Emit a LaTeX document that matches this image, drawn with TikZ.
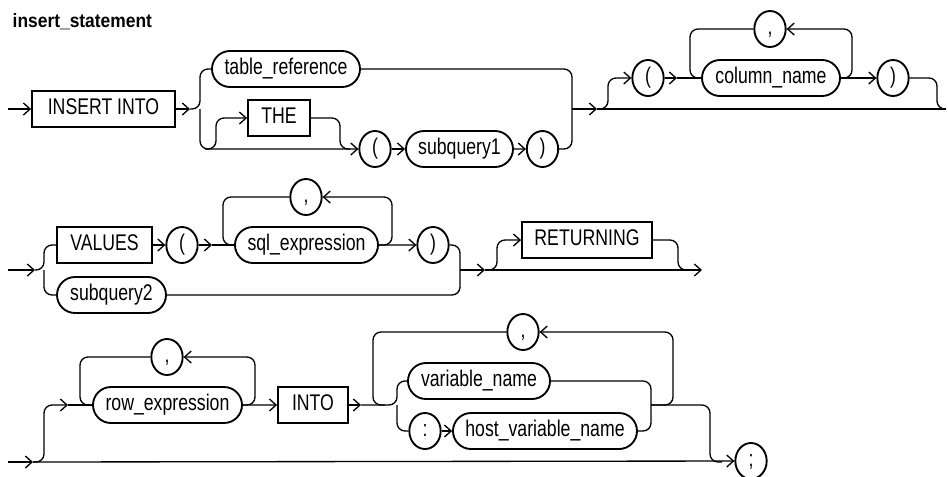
\documentclass[tikz,border=0pt]{standalone}
\usepackage{fontspec}
\setmainfont{Liberation Sans}[FakeStretch=0.78]
\newfontfamily\titlefont{Liberation Sans}[FakeStretch=0.9]
\usepackage{tikz}
\usetikzlibrary{arrows.meta,shapes.geometric,shapes.misc}
\tikzset{
  kw/.style={draw,line width=1.4pt,minimum width=#1*0.75pt,minimum height=27pt,inner sep=0pt},
  nt/.style={draw,rounded rectangle,line width=1.4pt,minimum width=#1*0.75pt,minimum height=27pt,inner sep=0pt},
  sym/.style={draw,ellipse,line width=1.4pt,minimum width=23.5pt,minimum height=27pt,inner sep=0pt},
  conn/.style={line width=1pt,rounded corners=6pt},
  arr/.style={-{Straight Barb[length=5pt,width=9pt]}}
}

\begin{document}
\begin{tikzpicture}[x=0.75pt,y=-0.75pt,every node/.append style={font=\fontsize{17}{20}\selectfont,text height=12pt,text depth=3.5pt}]
\useasboundingbox (0,0) rectangle (948,476);
\node[anchor=base west,font=\titlefont\fontsize{14.5}{17}\selectfont\bfseries] (title) at (8,27) {insert\_statement};
% row 1
\node[kw=143] (ins) at (103.5,109) {INSERT INTO};
\node[nt=148] (tref) at (286,69) {table\_reference};
\node[kw=62] (the) at (279,118) {THE};
\node[sym] (lp1) at (375,149) {(};\node[nt=107] (sq1) at (459.5,149) {subquery1};\node[sym] (rp1) at (542.5,149) {)};
\node[sym] (lp2) at (648,78) {(};\node[nt=138] (col) at (771,78) {column\_name};\node[sym] (rp2) at (893,78) {)};
\node[sym] (cm1) at (770,29) {,};
\coordinate (s1) at (8,109);\coordinate (a1) at (190,109);\coordinate (j1) at (200,109);
\coordinate (j2) at (572,109);\coordinate (a2) at (597,109);\coordinate (a3) at (677,78);\coordinate (e1) at (946,109);
\draw[conn,arr] (s1) -- (ins.west);
\draw[conn,arr] (ins.east) -- (a1);
\draw[conn] (a1) -- (j1) |- (tref.west);
\draw[conn,arr] (j1) |- (lp1.west);
\draw[conn,arr] (205,149) -| (216,118) -- (the.west);
\draw[conn] (the.east) -| (340,149) -- (350,149);
\draw[conn,arr] (lp1) -- (sq1);\draw[conn,arr] (sq1) -- (rp1);
\draw[conn] (rp1.east) -| (j2);\draw[conn] (tref.east) -| (j2);
\draw[conn,arr] (j2) -- (a2);
\draw[conn] (a2) -- (e1);
\draw[conn,arr] (a2) -| (608,78) -- (lp2.west);
\draw[conn,arr] (lp2.east) -- (a3);
\draw[conn] (a3) -- (col.west);
\draw[conn,arr] (col.east) -| (852,29) -- (cm1.east);
\draw[conn] (cm1.west) -| (690,78) -- (col.west);
\draw[conn,arr] (col.east) -- (rp2.west);
\draw[conn] (rp2.east) -| (937,109) -- (e1);
% row 2
\node[kw=95] (vals) at (104.5,245) {VALUES};
\node[nt=109] (sq2) at (111.5,295) {subquery2};
\node[sym] (lp3) at (182,245) {(};\node[nt=143] (sqe) at (306.5,245) {sql\_expression};\node[sym] (rp3) at (433,245) {)};
\node[sym] (cm2) at (306,197) {,};
\node[kw=130] (ret) at (587,240) {RETURNING};
\coordinate (s2) at (8,270);\coordinate (a4) at (35,270);\coordinate (j3) at (44,270);
\coordinate (a5) at (212,245);\coordinate (j4) at (460,270);\coordinate (a6) at (485,270);\coordinate (e2) at (702,270);
\draw[conn,arr] (s2) -- (a4);
\draw[conn] (a4) -- (j3) |- (vals.west);
\draw[conn] (j3) |- (sq2.west);
\draw[conn,arr] (vals) -- (lp3);
\draw[conn,arr] (lp3.east) -- (a5);
\draw[conn] (a5) -- (sqe.west);
\draw[conn,arr] (sqe.east) -| (392,197) -- (cm2.east);
\draw[conn] (cm2.west) -| (223,245) -- (sqe.west);
\draw[conn,arr] (sqe) -- (rp3);
\draw[conn] (rp3.east) -| (j4);\draw[conn] (sq2.east) -| (j4);
\draw[conn,arr] (j4) -- (a6);
\draw[conn,arr] (a6) -- (e2);
\draw[conn,arr] (a6) -| (497,240) -- (ret.west);
\draw[conn] (ret.east) -| (678,270) -- (690,270);
% row 3
\node[nt=149] (rowx) at (167.5,405) {row\_expression};
\node[sym] (cm3) at (167,357) {,};
\node[kw=70] (into) at (313,405) {INTO};
\node[nt=142] (var) at (479,381) {variable\_name};
\node[sym] (colon) at (425,431) {:};\node[nt=184] (hvar) at (545,431) {host\_variable\_name};
\node[sym] (cm4) at (523,332) {,};
\node[sym] (semi) at (751,461) {;};
\coordinate (s3) at (8,462);\coordinate (a7) at (33,462);\coordinate (a8) at (68,405);
\coordinate (a9) at (361,405);\coordinate (j5) at (397,405);\coordinate (j6) at (651,405);
\draw[conn,arr] (s3) -- (a7);
\draw[conn,arr] (a7) -- (semi.west);
\draw[conn,arr] (a7) -| (44,405) -- (a8);
\draw[conn] (a8) -- (rowx.west);
\draw[conn,arr] (rowx.east) -| (255,357) -- (cm3.east);
\draw[conn] (cm3.west) -| (80,405) -- (rowx.west);
\draw[conn,arr] (rowx) -- (into);
\draw[conn,arr] (into.east) -- (a9);
\draw[conn] (a9) -- (j5) |- (var.west);
\draw[conn] (j5) |- (colon.west);
\draw[conn,arr] (colon) -- (hvar);
\draw[conn] (var.east) -| (j6);\draw[conn] (hvar.east) -| (j6);
\draw[conn,arr] (j6) -| (673,332) -- (cm4.east);
\draw[conn] (cm4.west) -| (373,405) -- (385,405);
\draw[conn] (j6) -| (710,462) -- (722,462);
\end{tikzpicture}
\end{document}
